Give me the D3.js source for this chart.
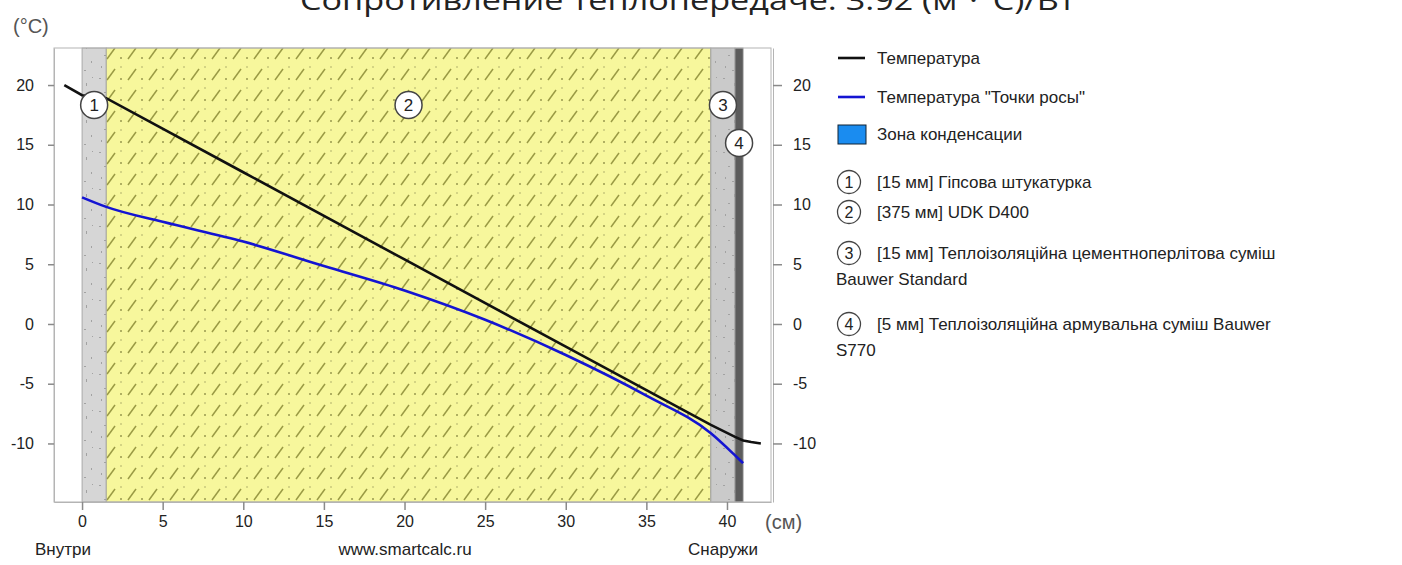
<!DOCTYPE html>
<html>
<head>
<meta charset="utf-8">
<script src="https://cdn.jsdelivr.net/npm/d3@7"></script>
<style>
  body { margin: 0; background: #fff; }
  svg text { font-family: "Liberation Sans", Arial, sans-serif; }
</style>
</head>
<body>
<svg width="1402" height="565"></svg>
<script>
// wall layers (cm), temperature & dew point profile
var layerBounds = [0, 1.5, 39, 40.5, 41]
var layerNames = ['[15 мм] Гiпсова штукатурка', '[375 мм]  UDK D400',
  '[15 мм] Теплоізоляційна цементноперлітова суміш', '[5 мм] Теплоізоляційна армувальна суміш Bauwer']
var layerNames2 = ['', '', 'Bauwer Standard', 'S770']

var tempX = [-1.1, 0, 1.5, 10, 20, 30, 39, 40.5, 41, 41.5, 42.1]
var tempY = [20.0, 19.15, 18.9, 12.7, 5.4, -1.9, -8.45, -9.45, -9.75, -9.88, -10.0]

var dewX = [0, 1.5, 5, 10, 15, 20, 25, 30, 35, 39, 40.5, 41]
var dewY = [10.6, 9.8, 8.55, 6.9, 4.85, 2.8, 0.35, -2.6, -6.0, -9.15, -11.0, -11.65]

var xTicks = [0, 5, 10, 15, 20, 25, 30, 35, 40]
var yTicks = [-10, -5, 0, 5, 10, 15, 20]

var pLeft = 54, pRight = 771, pTop = 48, pBottom = 502

var svg = d3.select('svg')

var x = d3.scaleLinear().domain([-1.74, 42.73]).range([pLeft, pRight])
var y = d3.scaleLinear().domain([-14.9, 23.1]).range([pBottom, pTop])

// patterns
var defs = svg.append('defs')
var pYellow = defs.append('pattern').attr('id', 'aerated')
  .attr('patternUnits', 'userSpaceOnUse').attr('width', 21).attr('height', 21)
pYellow.append('rect').attr('width', 21).attr('height', 21).attr('fill', '#f7f79c')
pYellow.append('line').attr('x1', 2).attr('y1', 17).attr('x2', 10).attr('y2', 6)
  .attr('stroke', '#9a9a44').attr('stroke-width', 1.5)
pYellow.append('circle').attr('cx', 16).attr('cy', 16).attr('r', 1).attr('fill', '#98984e')
pYellow.append('circle').attr('cx', 16).attr('cy', 4).attr('r', 0.8).attr('fill', '#a8a866')

function speckle(id, bg) {
  var p = defs.append('pattern').attr('id', id)
    .attr('patternUnits', 'userSpaceOnUse').attr('width', 24).attr('height', 37)
  p.append('rect').attr('width', 24).attr('height', 37).attr('fill', bg)
  var marks = [[3, 4, 2, 1], [14, 9, 1, 3], [8, 18, 2, 1], [19, 24, 1, 2], [5, 29, 1, 2], [12, 33, 2, 1], [20, 3, 1, 1]]
  marks.forEach(function(m) {
    p.append('rect').attr('x', m[0]).attr('y', m[1]).attr('width', m[2]).attr('height', m[3]).attr('fill', '#a2a2a2')
  })
}
speckle('plaster', '#d6d6d6')
speckle('perlite', '#cacaca')

var fills = ['url(#plaster)', 'url(#aerated)', 'url(#perlite)', '#5c5c5c']

// layers
svg.selectAll('rect.layer')
  .data(d3.range(layerBounds.length - 1))
  .enter().append('rect')
  .attr('class', 'layer')
  .attr('x', function(i) { return x(layerBounds[i]) })
  .attr('width', function(i) { return x(layerBounds[i + 1]) - x(layerBounds[i]) })
  .attr('y', pTop).attr('height', pBottom - pTop)
  .attr('fill', function(i) { return fills[i] })
  .attr('stroke', '#9a9a9a').attr('stroke-width', 0.8)

// frame
svg.append('rect').attr('x', pLeft).attr('y', pTop)
  .attr('width', pRight - pLeft).attr('height', pBottom - pTop)
  .attr('fill', 'none').attr('stroke', '#b4b4b4').attr('stroke-width', 1)

// axes (plain hyphen minus like the original)
var fmt = function(d) { return String(d) }
function styleAxis(g) {
  g.select('.domain').attr('stroke', '#b4b4b4')
  g.selectAll('.tick line').attr('stroke', '#8a8a8a').attr('stroke-width', 1.5)
  g.selectAll('.tick text').attr('fill', '#222').style('font-size', '16px')
}
svg.append('g').attr('transform', 'translate(' + pLeft + ',0)')
  .call(d3.axisLeft(y).tickValues(yTicks).tickFormat(fmt).tickSize(6).tickPadding(14).tickSizeOuter(0))
  .call(styleAxis)
svg.append('g').attr('transform', 'translate(' + (pRight + 2) + ',0)')
  .call(d3.axisRight(y).tickValues(yTicks).tickFormat(fmt).tickSize(9).tickPadding(11).tickSizeOuter(0))
  .call(styleAxis)
svg.append('g').attr('transform', 'translate(0,' + pBottom + ')')
  .call(d3.axisBottom(x).tickValues(xTicks).tickFormat(fmt).tickSize(8).tickPadding(6).tickSizeOuter(0))
  .call(styleAxis)

// lines
var line = d3.line()
  .x(function(d) { return x(d[0]) })
  .y(function(d) { return y(d[1]) })

svg.append('path').datum(d3.zip(dewX, dewY))
  .attr('d', line.curve(d3.curveMonotoneX)).attr('fill', 'none')
  .attr('stroke', '#1414d2').attr('stroke-width', 2.6)
svg.append('path').datum(d3.zip(tempX, tempY))
  .attr('d', line.curve(d3.curveLinear)).attr('fill', 'none')
  .attr('stroke', '#111').attr('stroke-width', 2.6)

// layer number markers
var markerDy = [57, 57, 57, 95]
var markers = svg.selectAll('g.marker')
  .data(d3.range(layerBounds.length - 1))
  .enter().append('g')
  .attr('transform', function(i) {
    return 'translate(' + x((layerBounds[i] + layerBounds[i + 1]) / 2) + ',' + (pTop + markerDy[i]) + ')'
  })
markers.append('circle').attr('r', 13.5).attr('fill', '#fff').attr('stroke', '#444').attr('stroke-width', 1.5)
markers.append('text').text(function(i) { return i + 1 })
  .attr('text-anchor', 'middle').attr('dy', 6).style('font-size', '17px').attr('fill', '#222')

// texts
svg.append('text').text('Сопротивление теплопередаче: 3.92 (м²·°С)/Вт')
  .attr('x', 300).attr('y', 10).attr('textLength', 775).attr('lengthAdjust', 'spacingAndGlyphs')
  .style('font-family', '"Open Sans", sans-serif').style('font-size', '27px').attr('fill', '#222')
svg.append('text').text('(°C)').attr('x', 13).attr('y', 33)
  .style('font-size', '20px').attr('fill', '#555')
svg.append('text').text('(см)').attr('x', 765).attr('y', 529)
  .style('font-size', '20px').attr('fill', '#555')
svg.append('text').text('Внутри').attr('x', 35).attr('y', 555).style('font-size', '17px').attr('fill', '#222')
svg.append('text').text('www.smartcalc.ru').attr('x', 405).attr('y', 555)
  .attr('text-anchor', 'middle').style('font-size', '17px').attr('fill', '#222')
svg.append('text').text('Снаружи').attr('x', 758).attr('y', 555)
  .attr('text-anchor', 'end').style('font-size', '17px').attr('fill', '#222')

// legend
var fs = '17px'
var lg = svg.append('g')
lg.append('line').attr('x1', 838).attr('x2', 865).attr('y1', 58).attr('y2', 58)
  .attr('stroke', '#111').attr('stroke-width', 2.6)
lg.append('text').text('Температура').attr('x', 877).attr('y', 64).style('font-size', fs).attr('fill', '#222')
lg.append('line').attr('x1', 838).attr('x2', 865).attr('y1', 97).attr('y2', 97)
  .attr('stroke', '#1414d2').attr('stroke-width', 2.6)
lg.append('text').text('Температура "Точки росы"').attr('x', 877).attr('y', 103).style('font-size', fs).attr('fill', '#222')
lg.append('rect').attr('x', 838).attr('y', 125).attr('width', 28).attr('height', 19)
  .attr('fill', '#1a8cf0').attr('stroke', '#123').attr('stroke-width', 1)
lg.append('text').text('Зона конденсации').attr('x', 877).attr('y', 140).style('font-size', fs).attr('fill', '#222')

var itemY = [182, 212, 253, 324]
var items = lg.selectAll('g.item').data(layerNames).enter().append('g')
items.append('circle').attr('cx', 849).attr('cy', function(d, i) { return itemY[i] })
  .attr('r', 11.5).attr('fill', '#fff').attr('stroke', '#444').attr('stroke-width', 1.3)
items.append('text').text(function(d, i) { return i + 1 })
  .attr('x', 849).attr('y', function(d, i) { return itemY[i] + 6 })
  .attr('text-anchor', 'middle').style('font-size', '16px').attr('fill', '#222')
items.append('text').text(function(d) { return d })
  .attr('x', 877).attr('y', function(d, i) { return itemY[i] + 6 })
  .style('font-size', fs).attr('fill', '#222')
items.append('text').text(function(d, i) { return layerNames2[i] })
  .attr('x', 836).attr('y', function(d, i) { return itemY[i] + 32 })
  .style('font-size', fs).attr('fill', '#222')
</script>
</body>
</html>
